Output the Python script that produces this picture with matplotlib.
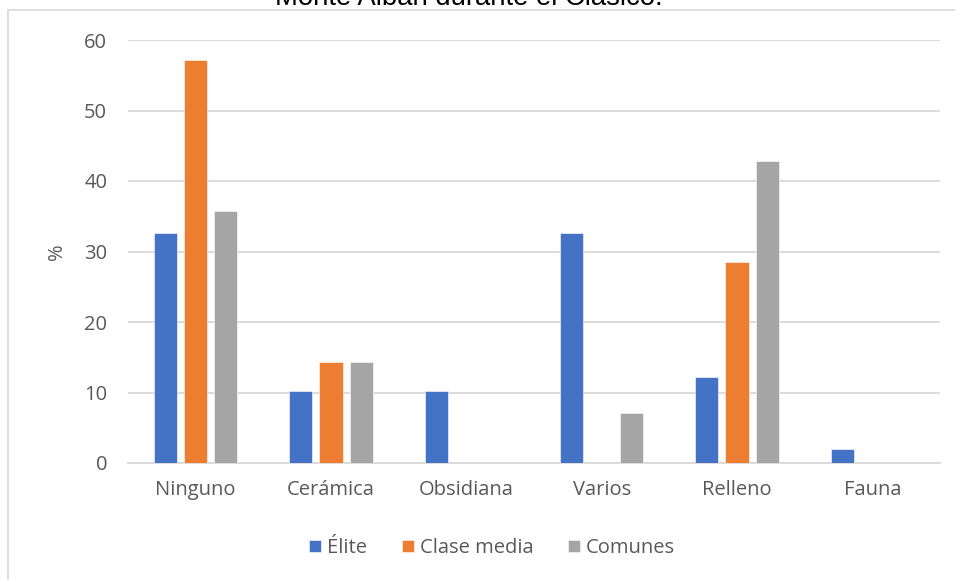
import numpy as np
import matplotlib.pyplot as plt
from matplotlib.patches import Rectangle

# data
categories = ['Ninguno', 'Cerámica', 'Obsidiana', 'Varios', 'Relleno', 'Fauna']
elite = [32.6, 10.2, 10.2, 32.6, 12.2, 2.0]
clase_media = [57.1, 14.3, 0, 0, 28.5, 0]
comunes = [35.7, 14.3, 0, 7.1, 42.8, 0]
series_names = ['Élite', 'Clase media', 'Comunes']
colors = ['#4472C4', '#ED7D31', '#A5A5A5']

W, H = 955, 580
fig = plt.figure(figsize=(W / 100, H / 100), dpi=100)
ax = fig.add_axes([128 / W, (H - 463) / H, (940 - 128) / W, (463 - 40) / H])

x = np.arange(len(categories))
width = 0.17
step = 0.222
for i, (vals, name, c) in enumerate(zip([elite, clase_media, comunes], series_names, colors)):
    ax.bar(x + (i - 1) * step, vals, width, color=c, label=name, zorder=3,
           edgecolor='white', linewidth=0.4)

ax.set_xlim(-0.5, len(categories) - 0.5)
ax.set_ylim(0, 60)
ax.set_yticks(range(0, 61, 10))
ax.set_xticks(x)
ax.set_xticklabels(categories)
ax.grid(axis='y', color='#d9d9d9', linewidth=1.3, zorder=0)
for s in ['top', 'right', 'left']:
    ax.spines[s].set_visible(False)
ax.spines['bottom'].set_color('#d9d9d9')
ax.spines['bottom'].set_linewidth(1.3)
ax.tick_params(axis='both', length=0, colors='#595959', labelsize=14.5)
ax.tick_params(axis='x', pad=12)
ax.tick_params(axis='y', pad=15)
for lab in ax.get_xticklabels() + ax.get_yticklabels():
    lab.set_family('Open Sans')

ax.set_ylabel('%', fontsize=14.5, color='#595959', family='Open Sans', labelpad=12)

leg = fig.legend(loc='center', bbox_to_anchor=(492 / W, 1 - 548 / H), ncol=3,
                 frameon=False, handlelength=0.6, handleheight=0.6, handletextpad=0.3,
                 columnspacing=1.7, prop={'family': 'Open Sans', 'size': 14.5})
for t in leg.get_texts():
    t.set_color('#595959')

# chart border (extends beyond the picture on the right and bottom)
fig.patches.append(Rectangle((8 / W, -0.1), 1.2, 1 - 10 / H + 0.1, transform=fig.transFigure,
                             fill=False, edgecolor='#d9d9d9', linewidth=1.2))

# clipped document title above the chart
fig.text(469 / W, 1 - 5 / H, 'Monte Albán durante el Clásico.', ha='center', va='baseline',
         fontsize=19.8, family='Liberation Sans', color='black')

fig.savefig('out.png', dpi=100)
